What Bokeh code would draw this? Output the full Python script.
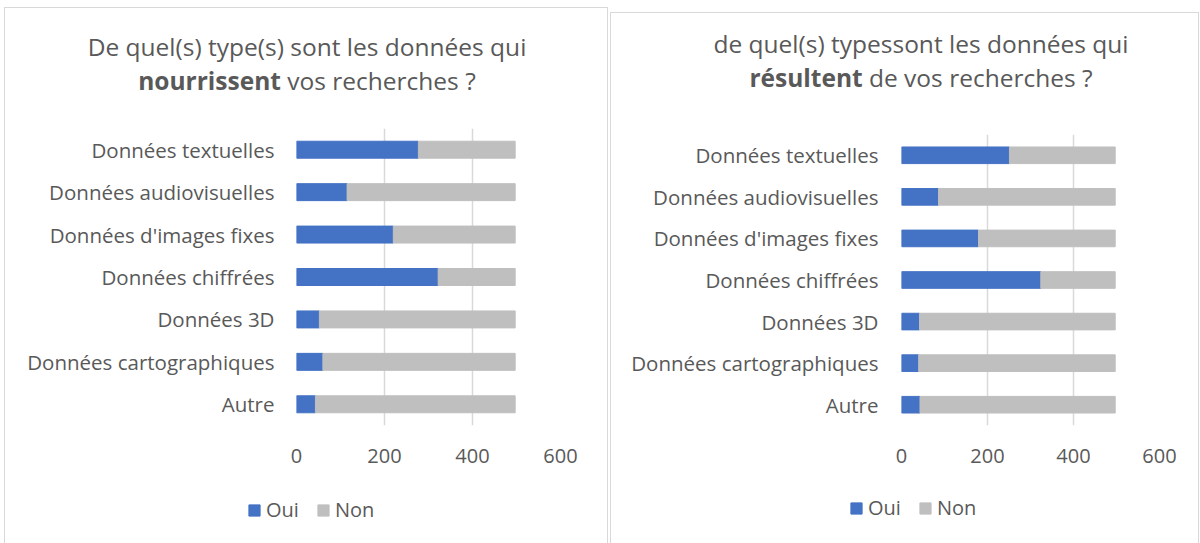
from bokeh.plotting import figure
from bokeh.models import (ColumnDataSource, FactorRange, Range1d, FixedTicker,
                          Legend, LegendItem, Spacer, Div)
from bokeh.layouts import row, column
from bokeh.embed import file_html
from bokeh.resources import INLINE

categories = ["Données textuelles", "Données audiovisuelles", "Données d'images fixes",
              "Données chiffrées", "Données 3D", "Données cartographiques", "Autre"]
series = ["Oui", "Non"]
oui_left = [277, 115, 220, 322, 52, 60, 43]
non_left = [220, 382, 277, 175, 445, 437, 454]
oui_right = [251, 86, 179, 324, 42, 40, 43]
non_right = [246, 411, 318, 173, 455, 457, 454]
x_ticks = [0, 200, 400, 600]
title_left = ["De quel(s) type(s) sont les données qui", "nourrissent", "vos recherches ?"]
title_right = ["de quel(s) typessont les données qui", "résultent", "de vos recherches ?"]

BLUE = "#4472C4"
GRAY = "#BFBFBF"
TXT = "#595959"
GRID = "#D9D9D9"
FONT = "Open Sans"
COLORS = [BLUE, GRAY]


def make_panel(oui, non, titles, panel_w, div_h, pad_top, pad_left,
               fl, fw, ft, fh, rb, bb, standoff, leg_h, leg_loc):
    html = (f'<div style="box-sizing:border-box;padding-top:{pad_top}px;padding-left:{pad_left}px;'
            f'width:{panel_w}px;text-align:center;font-family:\'{FONT}\';'
            f'font-size:24.5px;line-height:34px;color:{TXT};white-space:nowrap">'
            f'{titles[0]}<br><b>{titles[1]}</b> {titles[2]}</div>')
    div = Div(text=html, width=panel_w, height=div_h, margin=0)

    src = ColumnDataSource(dict(cat=categories, Oui=oui, Non=non))
    p = figure(y_range=FactorRange(factors=categories[::-1]),
               x_range=Range1d(0, 600),
               frame_width=fw, frame_height=fh,
               min_border_left=fl, min_border_right=rb,
               min_border_top=ft, min_border_bottom=bb,
               output_backend="svg", toolbar_location=None,
               border_fill_color=None, background_fill_color=None,
               outline_line_color=None, margin=0)
    p.frame_align = False
    p.hbar_stack(series, y="cat", height=0.4, color=COLORS, source=src)
    p.ygrid.grid_line_color = None
    p.xgrid.grid_line_color = GRID
    p.xgrid.grid_line_width = 1.5
    p.xaxis.ticker = FixedTicker(ticks=x_ticks)
    for ax in (p.xaxis[0], p.yaxis[0]):
        ax.axis_line_color = None
        ax.major_tick_line_color = None
        ax.minor_tick_line_color = None
        ax.major_tick_out = 0
        ax.major_tick_in = 0
        ax.major_label_text_font = FONT
        ax.major_label_text_color = TXT
        ax.major_label_text_font_size = "20px"
    p.yaxis.major_label_text_font_size = "20.5px"
    p.xaxis.major_label_standoff = 23
    p.yaxis.major_label_standoff = standoff

    # legend strip: same series, viewed outside their extent so only the key shows
    lg = figure(width=panel_w, height=leg_h, x_range=Range1d(-2, -1),
                y_range=FactorRange(factors=categories[::-1]),
                x_axis_location=None, y_axis_location=None,
                min_border=0, output_backend="svg", toolbar_location=None,
                border_fill_color=None, background_fill_color=None,
                outline_line_color=None, margin=0)
    lg.frame_align = False
    lg.grid.visible = False
    swatches = lg.hbar_stack(series, y="cat", height=0.4, color=COLORS, source=src)
    legend = Legend(items=[LegendItem(label=s, renderers=[r]) for s, r in zip(series, swatches)],
                    location=leg_loc, orientation="horizontal",
                    glyph_width=14, glyph_height=14, label_standoff=5, spacing=17,
                    padding=0, margin=0, border_line_color=None,
                    background_fill_alpha=0,
                    label_text_font=FONT, label_text_color=TXT,
                    label_text_font_size="20px")
    lg.add_layout(legend)

    return column(div, p, lg, spacing=0,
                  styles={"box-shadow": "inset 1px 1px 0 #D9D9D9, inset -1px 0 0 #D9D9D9"})


c1 = make_panel(oui_left, non_left, title_left, panel_w=604, div_h=110, pad_top=23, pad_left=2,
                fl=292, fw=264, ft=11, fh=297, rb=48, bb=60, standoff=22,
                leg_h=58, leg_loc=(243, 20))
c2 = make_panel(oui_right, non_right, title_right, panel_w=589, div_h=110, pad_top=15, pad_left=33,
                fl=291, fw=258, ft=12, fh=291, rb=40, bb=60, standoff=23,
                leg_h=58, leg_loc=(239, 22))

layout = row(Spacer(width=4), column(Spacer(height=7), c1),
             Spacer(width=2), column(Spacer(height=12), c2))
open("out.html", "w").write(file_html(layout, INLINE))
